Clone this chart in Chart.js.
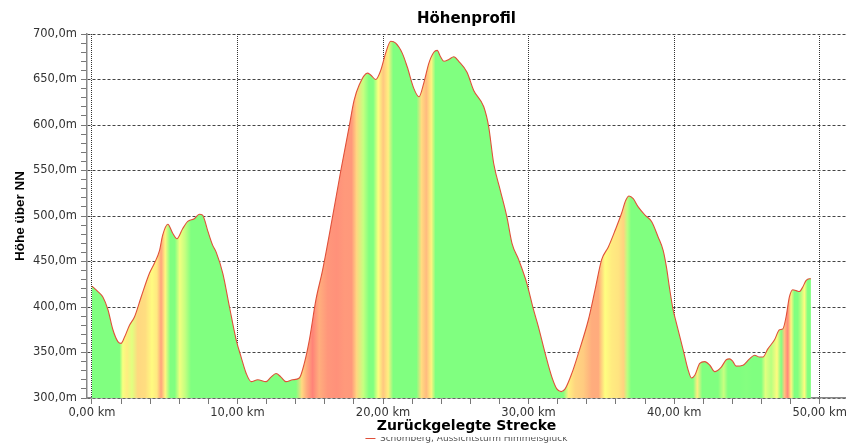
<!DOCTYPE html>
<html>
<head>
<meta charset="utf-8">
<title>Höhenprofil</title>
<script src="https://cdn.jsdelivr.net/npm/chart.js@4/dist/chart.umd.min.js"></script>
<style>
  html, body { margin: 0; padding: 0; background: #fff; }
  #wrap { width: 849px; height: 444px; }
</style>
</head>
<body>
<div id="wrap"><canvas id="profile"></canvas></div>
<script>
// Distance along the route (km) and elevation (m)
const distKm = [
  0.00, 0.41, 0.75, 1.10, 1.44, 1.78, 2.00, 2.24, 2.58, 2.92,
  3.38, 3.95, 4.29, 4.64, 4.86, 5.21, 5.55, 5.84, 6.23, 6.58,
  7.03, 7.38, 7.60, 7.95, 8.29, 8.54, 8.99, 9.45, 9.91, 10.25,
  10.60, 10.94, 11.39, 11.96, 12.30, 12.65, 12.99, 13.33, 13.79, 14.25,
  14.59, 14.93, 15.39, 15.84, 16.53, 17.10, 17.67, 18.01, 18.36, 18.92,
  19.15, 19.50, 19.84, 20.18, 20.53, 20.87, 21.32, 21.66, 22.12, 22.47,
  22.80, 23.15, 23.49, 23.72, 23.95, 24.18, 24.52, 24.86, 25.20, 25.77,
  26.23, 26.92, 27.26, 27.60, 28.06, 28.51, 28.86, 29.32, 29.88, 30.34,
  30.68, 31.14, 31.60, 31.94, 32.24, 32.51, 32.97, 33.42, 34.11, 34.57,
  35.02, 35.48, 35.94, 36.39, 36.67, 36.90, 37.19, 37.53, 38.00, 38.45,
  38.90, 39.25, 39.47, 39.70, 39.93, 40.16, 40.62, 40.96, 41.19, 41.42,
  41.76, 42.10, 42.45, 42.79, 43.24, 43.58, 43.81, 44.04, 44.27, 44.73,
  45.18, 45.53, 45.87, 46.10, 46.44, 46.90, 47.24, 47.47, 47.69, 47.92,
  48.15, 48.38, 48.61, 48.84, 49.06, 49.29, 49.40
];
const heightM = [
  423, 417, 411, 397, 375, 362, 360, 367, 380, 389,
  411, 437, 448, 462, 479, 491, 481, 475, 486, 494,
  497, 502, 501, 484, 468, 460, 437, 400, 364, 345,
  327, 318, 320, 318, 323, 327, 323, 318, 320, 322,
  338, 363, 408, 440, 499, 550, 598, 627, 644, 657,
  655, 650, 660, 679, 692, 690, 679, 664, 640, 631,
  646, 668, 680, 682, 675, 670, 672, 675, 670, 658,
  638, 620, 598, 558, 528, 499, 470, 452, 426, 397,
  378, 349, 323, 310, 307, 310, 327, 349, 386, 419,
  452, 466, 484, 503, 517, 522, 519, 510, 501, 494,
  477, 462, 444, 419, 397, 382, 353, 331, 322, 325,
  338, 340, 336, 329, 334, 342, 343, 340, 335, 336,
  343, 347, 345, 345, 354, 364, 375, 376, 389, 411,
  419, 418, 417, 422, 429, 431, 431
];

// Ticks: labelled ones and the small step between them
const xLabelKm = [0, 10, 20, 30, 40, 50];
const xMinorStep = 2;
const yLabelM = [300, 350, 400, 450, 500, 550, 600, 650, 700];
const yMinorStep = 10;

const seriesName = 'Schömberg, Aussichtsturm Himmelsglück';

// gradient (m per km) -> fill colour
const slopeColours = [
  [15, [128, 255, 128]],
  [30, [255, 255, 128]],
  [55, [255, 200, 128]],
  [100, [255, 128, 120]]
];

function slopeColour(s) {
  if (s <= slopeColours[0][0]) return rgb(slopeColours[0][1]);
  for (let i = 1; i < slopeColours.length; i++) {
    const [s1, c1] = slopeColours[i];
    const [s0, c0] = slopeColours[i - 1];
    if (s <= s1) {
      const t = (s - s0) / (s1 - s0);
      return rgb(c0.map((v, k) => v + (c1[k] - v) * t));
    }
  }
  return rgb(slopeColours[slopeColours.length - 1][1]);
}

function rgb(c) {
  return `rgb(${c.map(Math.round).join(',')})`;
}

function slopeFill(context) {
  const chart = context.chart;
  const area = chart.chartArea;
  if (!area) return null;
  const xs = chart.scales.x;
  const w = area.right - area.left;
  const g = chart.ctx.createLinearGradient(area.left, 0, area.right, 0);
  for (let i = 1; i < distKm.length; i++) {
    const slope = (heightM[i] - heightM[i - 1]) / (distKm[i] - distKm[i - 1]);
    const mid = (distKm[i] + distKm[i - 1]) / 2;
    const f = (xs.getPixelForValue(mid) - area.left) / w;
    g.addColorStop(Math.min(1, Math.max(0, f)), slopeColour(slope));
  }
  return g;
}

// minor + major ticks between first and last labelled value
function stepTicks(labels, step) {
  const first = labels[0], last = labels[labels.length - 1];
  const out = [];
  for (let v = first; v <= last + 1e-9; v += step) out.push({ value: Math.round(v * 1000) / 1000 });
  return out;
}

const isLabelled = (list, v) => list.some(l => Math.abs(l - v) < 1e-6);
const fmt = (v, d) => v.toFixed(d).replace('.', ',');

const tickFont = { family: 'DejaVu Sans', size: 11.5 };

new Chart(document.getElementById('profile'), {
  type: 'line',
  data: {
    datasets: [{
      label: seriesName,
      data: distKm.map((d, i) => ({ x: d, y: heightM[i] })),
      borderColor: '#e0503a',
      borderWidth: 1.1,
      backgroundColor: slopeFill,
      fill: 'start',
      pointRadius: 0,
      tension: 0.4,
      cubicInterpolationMode: 'monotone'
    }]
  },
  options: {
    responsive: true,
    maintainAspectRatio: false,
    animation: false,
    layout: { padding: { left: 0, right: 1, top: 0, bottom: -9 } },
    plugins: {
      title: {
        display: true,
        text: 'Höhenprofil',
        fullSize: false,
        color: '#000',
        font: { family: 'DejaVu Sans', size: 15, weight: 'bold', lineHeight: 1.2 },
        padding: { top: 10, bottom: 6 }
      },
      legend: {
        position: 'bottom',
        fullSize: false,
        labels: {
          usePointStyle: true,
          pointStyle: 'line',
          pointStyleWidth: 10,
          boxHeight: 9,
          padding: -3,
          color: '#555',
          font: { family: 'DejaVu Sans', size: 9 }
        }
      },
      tooltip: { enabled: false }
    },
    scales: {
      x: {
        type: 'linear',
        min: -0.34,
        max: 51.8,
        z: 1,
        afterFit: scale => { scale.height = 39; },
        afterBuildTicks: axis => { axis.ticks = stepTicks(xLabelKm, xMinorStep); },
        ticks: {
          autoSkip: false,
          maxRotation: 0,
          padding: 2,
          color: '#333',
          font: tickFont,
          callback: v => isLabelled(xLabelKm, v) ? fmt(v, 2) + ' km' : ''
        },
        grid: {
          color: ctx => ctx.tick && isLabelled(xLabelKm, ctx.tick.value) ? '#333' : 'rgba(0,0,0,0)',
          tickColor: '#777',
          tickLength: 6,
          lineWidth: 1
        },
        border: { display: true, color: '#888', width: 1.5, dash: [1, 1] },
        title: {
          display: true,
          text: 'Zurückgelegte Strecke',
          color: '#000',
          font: { family: 'DejaVu Sans', size: 14, weight: 'bold', lineHeight: 1.2 },
          padding: { top: 0, bottom: 2.6 }
        }
      },
      y: {
        min: 300,
        max: 700,
        z: 1,
        afterFit: scale => { scale.width = 87; },
        afterBuildTicks: axis => { axis.ticks = stepTicks(yLabelM, yMinorStep); },
        ticks: {
          autoSkip: false,
          padding: 4,
          color: '#333',
          font: tickFont,
          callback: v => isLabelled(yLabelM, v) ? fmt(v, 1) + 'm' : ''
        },
        grid: {
          color: ctx => ctx.tick && isLabelled(yLabelM, ctx.tick.value) ? '#444' : 'rgba(0,0,0,0)',
          tickColor: '#777',
          tickLength: 6,
          lineWidth: 1
        },
        border: { display: true, color: '#888', width: 1.5, dash: [3, 2] },
        title: {
          display: true,
          text: 'Höhe über NN',
          color: '#000',
          font: { family: 'Liberation Sans', size: 13.5, weight: 'bold', lineHeight: 1.2 },
          padding: { top: 12, bottom: 0 }
        }
      }
    }
  }
});
</script>
</body>
</html>
